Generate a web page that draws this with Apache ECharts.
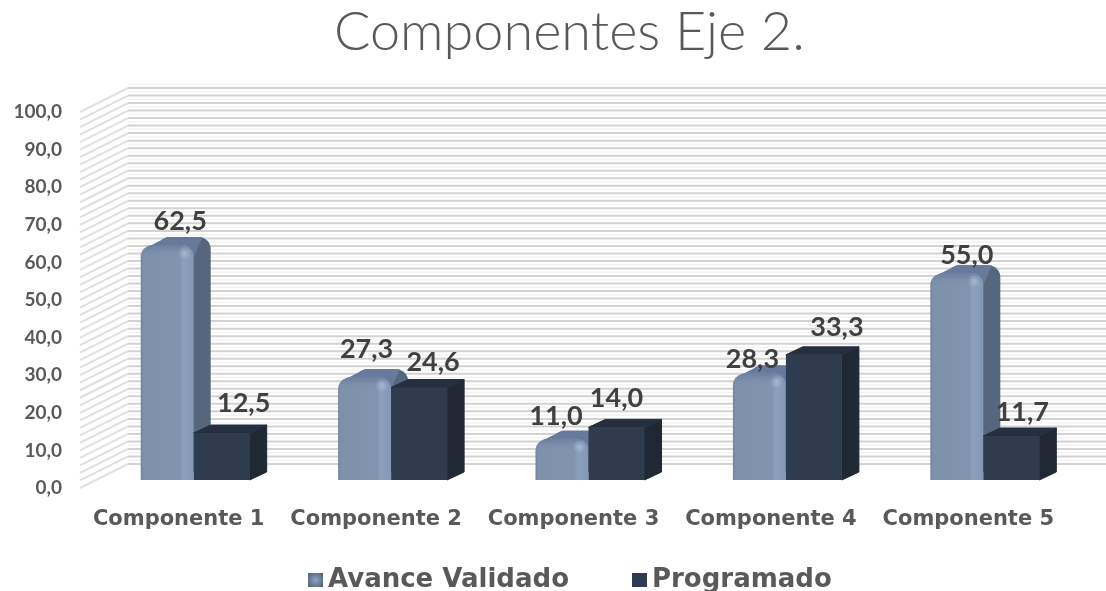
<!DOCTYPE html>
<html>
<head>
<meta charset="utf-8">
<title>Componentes Eje 2.</title>
<style>
  html, body { margin: 0; padding: 0; background: #fff; }
  /* the source picture is a soft upscaled image */
  #chart-dom-1 { width: 1106px; height: 591px; filter: blur(0.7px); }
</style>
<script src="https://cdn.jsdelivr.net/npm/echarts@6/dist/echarts.min.js"></script>
</head>
<body>
<div id="chart-dom-1"></div>
<script>
const categories = ['Componente 1', 'Componente 2', 'Componente 3', 'Componente 4', 'Componente 5']
const avanceValidado = [62.5, 27.3, 11.0, 28.3, 55.0]
const programado = [12.5, 24.6, 14.0, 33.3, 11.7]
const wallTicks = [0, 2, 4, 6, 8, 10, 12, 14, 16, 18, 20, 22, 24, 26, 28, 30, 32, 34, 36, 38, 40, 42, 44, 46, 48, 50,
  52, 54, 56, 58, 60, 62, 64, 66, 68, 70, 72, 74, 76, 78, 80, 82, 84, 86, 88, 90, 92, 94, 96, 98, 100]

// hand placed labels in the original, shift from the bar's top centre
const avanceLabelShift = [[13, -16], [2, -20], [-6, -14], [-7, -6], [10, -10]]
const programadoLabelShift = [[22, -22], [14, -17], [0, -21], [23, -19], [11, -16]]

// 3d projection of the plot box
const wallDx = 48
const wallDy = -24
const barInDx = 16
const barInDy = -8
const barDepthDx = 17
const barDepthDy = -8
const blueWidth = 53
const darkWidth = 56

const fmt = (v) => v.toFixed(1).replace('.', ',')
const labelFont = '700 27px Lato, sans-serif'
const textFamily = 'DejaVu Sans'

function renderWall(params, api) {
  const tick = api.value(0)
  const p = api.coord([0, tick])
  const x0 = params.coordSys.x
  const y0 = p[1]
  const children = [
    { type: 'line', shape: { x1: x0, y1: y0, x2: x0 + wallDx, y2: y0 + wallDy }, style: { stroke: '#e0e0e0', lineWidth: 2 } },
    { type: 'line', shape: { x1: x0 + wallDx, y1: y0 + wallDy, x2: 1106, y2: y0 + wallDy }, style: { stroke: '#d2d2d2', lineWidth: 2 } },
    { type: 'line', shape: { x1: x0 + wallDx, y1: y0 + wallDy - 3.75, x2: 1106, y2: y0 + wallDy - 3.75 }, style: { stroke: '#f3f3f3', lineWidth: 1.5 } },
  ]
  return { type: 'group', silent: true, children }
}

function renderAvance(params, api) {
  const i = api.value(0)
  const v = api.value(1)
  const top = api.coord([i, v])
  const base = api.coord([i, 0])
  const x = top[0] + barInDx - 1 - blueWidth
  const yTop = top[1] + barInDy
  const yBase = base[1] + barInDy
  const h = yBase - yTop
  const shift = avanceLabelShift[params.dataIndex]
  const r = Math.min(12, h / 2)
  const right = x + blueWidth
  return {
    type: 'group',
    children: [
      // back face gives the rounded side and top silhouette
      { type: 'rect', shape: { x: x + barDepthDx, y: yTop + barDepthDy, width: blueWidth, height: h, r: [r, r, 0, 0] }, style: { fill: '#56667d' } },
      {
        type: 'polygon',
        shape: { points: [[x + r * 0.5, yTop + r * 0.2], [x + r * 0.8 + barDepthDx, yTop + barDepthDy], [right + barDepthDx - r * 0.7, yTop + barDepthDy], [right, yTop + r]] },
        style: { fill: '#667b9b' },
      },
      {
        type: 'rect',
        shape: { x, y: yTop, width: blueWidth, height: h, r: [r, r, 0, 0] },
        style: {
          fill: new echarts.graphic.LinearGradient(0, 0, 1, 0, [
            { offset: 0, color: '#72859f' },
            { offset: 0.05, color: '#7d91ab' },
            { offset: 0.74, color: '#8195b0' },
            { offset: 0.8, color: '#8ba0bc' },
            { offset: 1, color: '#8398b4' },
          ]),
        },
      },
      {
        type: 'rect',
        shape: { x: x + 1, y: yTop, width: blueWidth - 2, height: Math.min(r + 2, h), r: [r, r, 0, 0] },
        style: {
          fill: new echarts.graphic.LinearGradient(0, 0, 0, 1, [
            { offset: 0, color: 'rgba(104,124,155,0.9)' },
            { offset: 1, color: 'rgba(130,152,184,0)' },
          ]),
        },
      },
      {
        type: 'circle',
        shape: { cx: right - 9, cy: yTop + 8, r: 7 },
        style: {
          fill: new echarts.graphic.RadialGradient(0.5, 0.5, 0.5, [
            { offset: 0, color: 'rgba(172,192,218,0.8)' },
            { offset: 1, color: 'rgba(172,192,218,0)' },
          ]),
        },
      },
      { type: 'text', style: { x: x + blueWidth / 2 + shift[0], y: yTop + barDepthDy + shift[1], text: fmt(v), font: labelFont, fill: '#404040', align: 'center', verticalAlign: 'middle' } },
    ],
  }
}

function renderProgramado(params, api) {
  const i = api.value(0)
  const v = api.value(1)
  const top = api.coord([i, v])
  const base = api.coord([i, 0])
  const x = top[0] + barInDx - 1
  const yTop = top[1] + barInDy
  const yBase = base[1] + barInDy
  const right = x + darkWidth
  const shift = programadoLabelShift[params.dataIndex]
  return {
    type: 'group',
    children: [
      {
        type: 'polygon',
        shape: { points: [[right, yTop], [right + barDepthDx, yTop + barDepthDy], [right + barDepthDx, yBase + barDepthDy], [right, yBase]] },
        style: { fill: '#1f2833', stroke: '#1f2833', lineWidth: 1 },
      },
      {
        type: 'polygon',
        shape: { points: [[x, yTop], [x + barDepthDx, yTop + barDepthDy], [right + barDepthDx, yTop + barDepthDy], [right, yTop]] },
        style: { fill: '#262f3f', stroke: '#262f3f', lineWidth: 1 },
      },
      { type: 'rect', shape: { x, y: yTop, width: darkWidth, height: yBase - yTop }, style: { fill: '#2f3b4f' } },
      { type: 'text', style: { x: x + darkWidth / 2 + shift[0], y: yTop + barDepthDy + shift[1], text: fmt(v), font: labelFont, fill: '#404040', align: 'center', verticalAlign: 'middle' } },
    ],
  }
}

const chartInstance = echarts.init(document.getElementById('chart-dom-1'))
chartInstance.setOption({
  animation: false,
  title: {
    text: 'Componentes Eje 2.',
    left: 329,
    top: 1,
    textStyle: { fontFamily: 'Lato', fontWeight: 300, fontSize: 54, color: '#595959' },
  },
  legend: {
    top: 562,
    left: 303,
    itemGap: 63,
    itemWidth: 15,
    itemHeight: 14,
    icon: 'rect',
    textStyle: { fontFamily: textFamily, fontWeight: 700, fontSize: 26, color: '#595959' },
    data: [
      {
        name: 'Avance Validado',
        itemStyle: {
          color: new echarts.graphic.RadialGradient(0.5, 0.5, 0.7, [
            { offset: 0, color: '#8fa3c0' },
            { offset: 1, color: '#4e5f78' },
          ]),
        },
      },
      { name: 'Programado' },
    ],
  },
  grid: { left: 80, right: 39, top: 112, bottom: 103 },
  xAxis: {
    type: 'category',
    data: categories,
    axisLine: { show: false },
    axisTick: { show: false },
    axisLabel: { margin: 21, fontFamily: textFamily, fontWeight: 700, fontSize: 21, color: '#595959', interval: 0 },
  },
  yAxis: {
    type: 'value',
    min: 0,
    max: 100,
    interval: 10,
    axisLine: { show: false },
    axisTick: { show: false },
    splitLine: { show: false },
    axisLabel: { margin: 18, formatter: fmt, fontFamily: 'Lato', fontWeight: 700, fontSize: 19, color: '#595959', padding: [12, 0, 0, 0] },
  },
  series: [
    { type: 'custom', name: 'wall', silent: true, clip: false, renderItem: renderWall, data: wallTicks.map((t) => [t]), encode: { y: 0 }, z: 1 },
    {
      type: 'custom',
      name: 'Avance Validado',
      renderItem: renderAvance,
      data: avanceValidado.map((v, i) => [i, v]),
      encode: { x: 0, y: 1 },
      itemStyle: { color: '#6d83a3' },
      clip: false,
      z: 2,
    },
    {
      type: 'custom',
      name: 'Programado',
      renderItem: renderProgramado,
      data: programado.map((v, i) => [i, v]),
      encode: { x: 0, y: 1 },
      itemStyle: { color: '#2f3b4f' },
      clip: false,
      z: 3,
    },
  ],
})
</script>
</body>
</html>
